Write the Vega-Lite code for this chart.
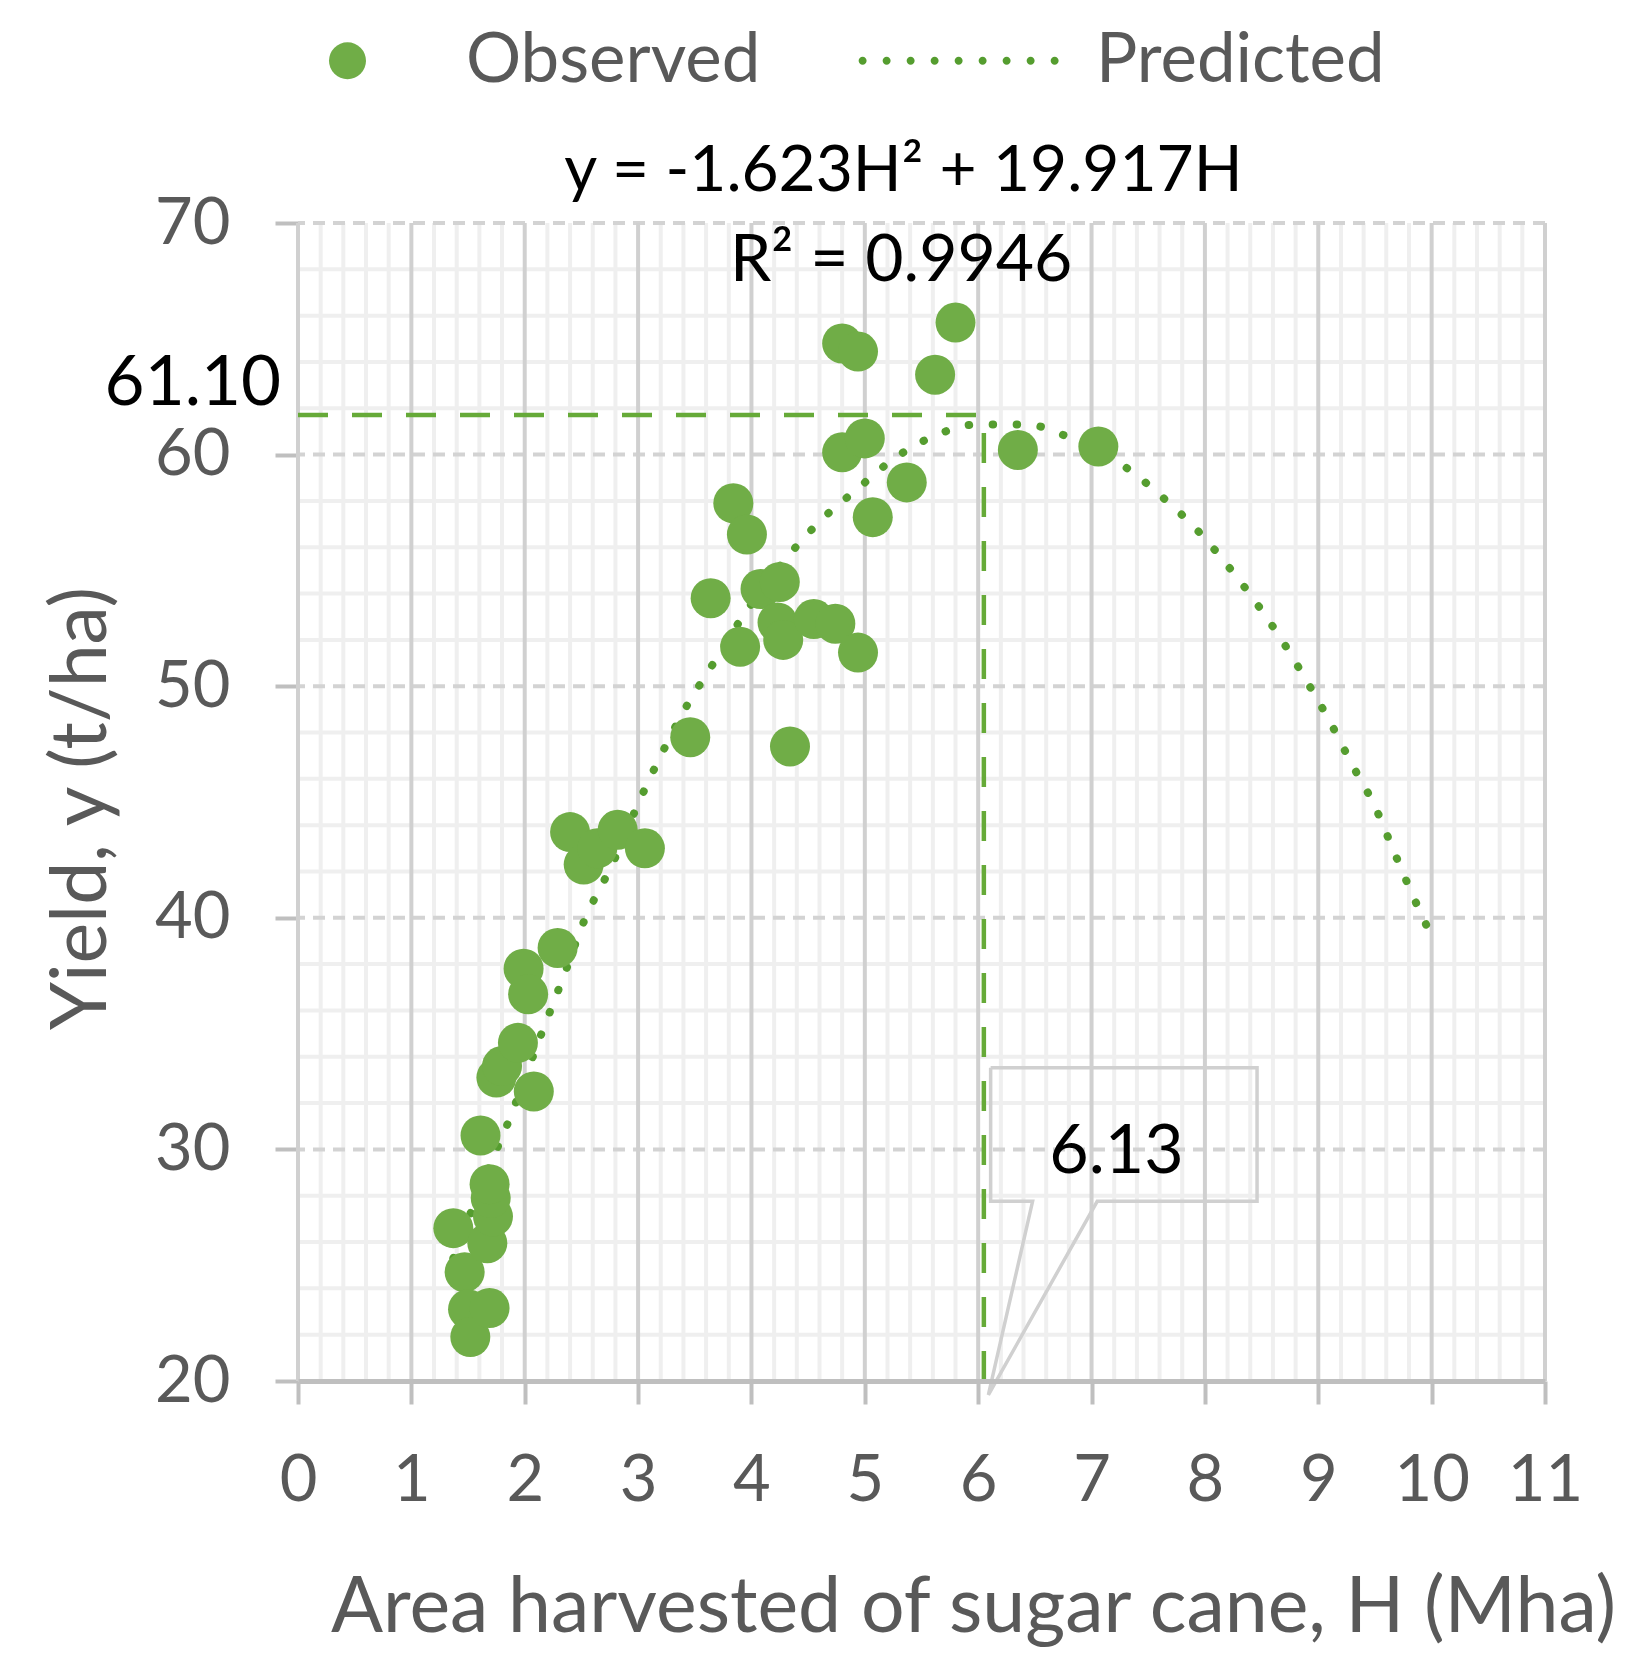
{
  "$schema": "https://vega.github.io/schema/vega-lite/v6.json",
  "description": "Yield of sugar cane versus harvested area, observed and predicted",
  "width": 1247,
  "height": 1158,
  "autosize": {"type": "none"},
  "padding": {"left": 298, "top": 223, "right": 96, "bottom": 299},
  "background": "white",
  "config": {
    "view": {"stroke": null},
    "font": "Lato",
    "axis": {"labelFont": "Lato", "titleFont": "Lato", "labelColor": "#595959", "titleColor": "#595959", "titleFontWeight": "normal", "labelFlush": false}
  },
  "datasets": {
    "obs": [
      {"H": 1.37, "Y": 26.6}, {"H": 1.47, "Y": 24.7}, {"H": 1.50, "Y": 23.1}, {"H": 1.52, "Y": 21.9},
      {"H": 1.69, "Y": 23.15}, {"H": 1.67, "Y": 25.95}, {"H": 1.72, "Y": 27.1}, {"H": 1.70, "Y": 27.9},
      {"H": 1.69, "Y": 28.5}, {"H": 1.61, "Y": 30.6}, {"H": 1.75, "Y": 33.1}, {"H": 1.80, "Y": 33.6},
      {"H": 1.94, "Y": 34.6}, {"H": 2.08, "Y": 32.5}, {"H": 1.99, "Y": 37.8}, {"H": 2.03, "Y": 36.7},
      {"H": 2.29, "Y": 38.7}, {"H": 2.40, "Y": 43.7}, {"H": 2.52, "Y": 42.3}, {"H": 2.64, "Y": 43.0},
      {"H": 2.82, "Y": 43.8}, {"H": 3.06, "Y": 43.0}, {"H": 3.46, "Y": 47.8}, {"H": 4.34, "Y": 47.4},
      {"H": 3.64, "Y": 53.8}, {"H": 3.90, "Y": 51.7}, {"H": 3.84, "Y": 57.9}, {"H": 3.96, "Y": 56.55},
      {"H": 4.08, "Y": 54.2}, {"H": 4.25, "Y": 54.5}, {"H": 4.23, "Y": 52.75}, {"H": 4.28, "Y": 52.0},
      {"H": 4.55, "Y": 52.9}, {"H": 4.74, "Y": 52.7}, {"H": 4.94, "Y": 51.45}, {"H": 4.80, "Y": 60.1},
      {"H": 5.00, "Y": 60.7}, {"H": 5.07, "Y": 57.3}, {"H": 5.37, "Y": 58.8}, {"H": 4.80, "Y": 64.8},
      {"H": 4.94, "Y": 64.45}, {"H": 5.62, "Y": 63.45}, {"H": 5.80, "Y": 65.7}, {"H": 6.35, "Y": 60.2},
      {"H": 7.06, "Y": 60.35}
    ],
    "pred": [
      {"H": 1.37, "Y": 25.3}, {"H": 1.69, "Y": 29.3}, {"H": 1.84, "Y": 31.0}, {"H": 2.14, "Y": 34.9},
      {"H": 2.36, "Y": 37.7}, {"H": 2.51, "Y": 39.7}, {"H": 2.78, "Y": 42.4}, {"H": 3.03, "Y": 45.25},
      {"H": 3.21, "Y": 47.1}, {"H": 3.40, "Y": 48.9}, {"H": 3.64, "Y": 50.8}, {"H": 3.95, "Y": 53.2},
      {"H": 4.32, "Y": 55.6}, {"H": 4.62, "Y": 57.2}, {"H": 4.93, "Y": 58.5}, {"H": 5.25, "Y": 59.8},
      {"H": 5.61, "Y": 60.8}, {"H": 5.99, "Y": 61.3}, {"H": 6.42, "Y": 61.3}, {"H": 6.80, "Y": 60.75},
      {"H": 7.33, "Y": 59.35}, {"H": 7.64, "Y": 58.1}, {"H": 7.94, "Y": 56.7}, {"H": 8.21, "Y": 55.15},
      {"H": 8.46, "Y": 53.55}, {"H": 8.69, "Y": 51.9}, {"H": 8.90, "Y": 50.2}, {"H": 9.11, "Y": 48.4},
      {"H": 9.30, "Y": 46.6}, {"H": 9.50, "Y": 44.8}, {"H": 9.66, "Y": 42.95}, {"H": 9.83, "Y": 41.0},
      {"H": 10.0, "Y": 39.2}
    ],
    "minorX": [
      {"v": 0.2}, {"v": 0.4}, {"v": 0.6}, {"v": 0.8}, {"v": 1.2}, {"v": 1.4}, {"v": 1.6}, {"v": 1.8},
      {"v": 2.2}, {"v": 2.4}, {"v": 2.6}, {"v": 2.8}, {"v": 3.2}, {"v": 3.4}, {"v": 3.6}, {"v": 3.8},
      {"v": 4.2}, {"v": 4.4}, {"v": 4.6}, {"v": 4.8}, {"v": 5.2}, {"v": 5.4}, {"v": 5.6}, {"v": 5.8},
      {"v": 6.2}, {"v": 6.4}, {"v": 6.6}, {"v": 6.8}, {"v": 7.2}, {"v": 7.4}, {"v": 7.6}, {"v": 7.8},
      {"v": 8.2}, {"v": 8.4}, {"v": 8.6}, {"v": 8.8}, {"v": 9.2}, {"v": 9.4}, {"v": 9.6}, {"v": 9.8},
      {"v": 10.2}, {"v": 10.4}, {"v": 10.6}, {"v": 10.8}
    ],
    "minorY": [
      {"v": 22}, {"v": 24}, {"v": 26}, {"v": 28}, {"v": 32}, {"v": 34}, {"v": 36}, {"v": 38},
      {"v": 42}, {"v": 44}, {"v": 46}, {"v": 48}, {"v": 52}, {"v": 54}, {"v": 56}, {"v": 58},
      {"v": 62}, {"v": 64}, {"v": 66}, {"v": 68}
    ],
    "majorX": [
      {"v": 0}, {"v": 1}, {"v": 2}, {"v": 3}, {"v": 4}, {"v": 5}, {"v": 6}, {"v": 7}, {"v": 8}, {"v": 9}, {"v": 10}, {"v": 11}
    ],
    "majorY": [
      {"v": 30}, {"v": 40}, {"v": 50}, {"v": 60}, {"v": 70}
    ],
    "callout": [
      {"o": 1, "H": 6.11, "Y": 33.53}, {"o": 2, "H": 8.46, "Y": 33.53}, {"o": 3, "H": 8.46, "Y": 27.76},
      {"o": 4, "H": 7.05, "Y": 27.76}, {"o": 5, "H": 6.09, "Y": 19.4}, {"o": 6, "H": 6.48, "Y": 27.76},
      {"o": 7, "H": 6.11, "Y": 27.76}, {"o": 8, "H": 6.11, "Y": 33.53}
    ]
  },
  "layer": [
    {
      "data": {"name": "minorX"},
      "mark": {"type": "rule", "color": "#efefef", "strokeWidth": 4},
      "encoding": {
        "x": {"field": "v", "type": "quantitative", "scale": {"domain": [0, 11], "nice": false, "zero": false},
          "axis": {"values": [0, 1, 2, 3, 4, 5, 6, 7, 8, 9, 10, 11], "format": "d", "grid": false,
            "title": "Area harvested of sugar cane, H (Mha)", "titleFontSize": 77, "titleX": 675, "titleY": 227,
            "titleBaseline": "middle", "labelFontSize": 65, "labelPadding": 45, "tickSize": 23, "tickWidth": 4,
            "tickColor": "#bfbfbf", "domainColor": "#bfbfbf", "domainWidth": 5, "zindex": 1}}
      }
    },
    {
      "data": {"name": "minorY"},
      "mark": {"type": "rule", "color": "#efefef", "strokeWidth": 4},
      "encoding": {
        "y": {"field": "v", "type": "quantitative", "scale": {"domain": [20, 70], "nice": false, "zero": false},
          "axis": {"values": [20, 30, 40, 50, 60, 70], "grid": false, "domain": false,
            "title": "Yield, y (t/ha)", "titleFontSize": 77, "titleX": -216, "titleY": 585,
            "titleBaseline": "middle", "labelFontSize": 65, "labelPadding": 45, "tickSize": 23, "tickWidth": 4,
            "tickColor": "#bfbfbf"}}
      }
    },
    {
      "data": {"name": "majorY"},
      "mark": {"type": "rule", "color": "#d3d3d3", "strokeWidth": 4, "strokeDash": [12, 8]},
      "encoding": {"y": {"field": "v", "type": "quantitative"}}
    },
    {
      "data": {"name": "majorX"},
      "mark": {"type": "rule", "color": "#d0d0d0", "strokeWidth": 4},
      "encoding": {"x": {"field": "v", "type": "quantitative"}}
    },
    {
      "data": {"name": "callout"},
      "mark": {"type": "line", "color": "#d0d0d0", "strokeWidth": 3.5},
      "encoding": {
        "x": {"field": "H", "type": "quantitative"},
        "y": {"field": "Y", "type": "quantitative"},
        "order": {"field": "o"}
      }
    },
    {
      "data": {"values": [{}]},
      "mark": {"type": "rule", "color": "#66aa38", "strokeWidth": 4.5, "strokeDash": [30, 24]},
      "encoding": {"x": {"datum": 0}, "x2": {"datum": 6.05}, "y": {"datum": 61.71}}
    },
    {
      "data": {"values": [{}]},
      "mark": {"type": "rule", "color": "#66aa38", "strokeWidth": 4.5, "strokeDash": [30, 24]},
      "encoding": {"x": {"datum": 6.05}, "y": {"datum": 20}, "y2": {"datum": 61.71}}
    },
    {
      "data": {"name": "pred"},
      "mark": {"type": "line", "color": "#559d2f", "strokeWidth": 8, "strokeDash": [0.5, 23.5], "strokeCap": "round", "interpolate": "monotone"},
      "encoding": {
        "x": {"field": "H", "type": "quantitative"},
        "y": {"field": "Y", "type": "quantitative"}
      }
    },
    {
      "data": {"name": "obs"},
      "mark": {"type": "point", "filled": true, "opacity": 1, "size": 1600},
      "encoding": {
        "x": {"field": "H", "type": "quantitative"},
        "y": {"field": "Y", "type": "quantitative"},
        "color": {"datum": "Observed", "type": "nominal",
          "scale": {"domain": ["Observed", "Predicted"], "range": ["#70ad47", "#559d2f"]},
          "legend": {"orient": "none", "legendX": 15, "legendY": -197, "direction": "horizontal", "title": null,
            "labelFont": "Lato", "labelFontSize": 69, "labelColor": "#595959", "labelLimit": 600, "symbolSize": 1369,
            "labelOffset": 84, "columnPadding": 97, "symbolStrokeWidth": 0, "padding": 0}},
        "shape": {"datum": "Observed", "type": "nominal",
          "scale": {"domain": ["Observed", "Predicted"], "range": ["circle", "M-6.426,0a0.216,0.216 0 1,0 0.432,0a0.216,0.216 0 1,0 -0.432,0M-5.128,0a0.216,0.216 0 1,0 0.432,0a0.216,0.216 0 1,0 -0.432,0M-3.83,0a0.216,0.216 0 1,0 0.432,0a0.216,0.216 0 1,0 -0.432,0M-2.533,0a0.216,0.216 0 1,0 0.432,0a0.216,0.216 0 1,0 -0.432,0M-1.236,0a0.216,0.216 0 1,0 0.432,0a0.216,0.216 0 1,0 -0.432,0M0.061,0a0.216,0.216 0 1,0 0.432,0a0.216,0.216 0 1,0 -0.432,0M1.358,0a0.216,0.216 0 1,0 0.432,0a0.216,0.216 0 1,0 -0.432,0M2.656,0a0.216,0.216 0 1,0 0.432,0a0.216,0.216 0 1,0 -0.432,0M3.954,0a0.216,0.216 0 1,0 0.432,0a0.216,0.216 0 1,0 -0.432,0"]},
          "legend": {"orient": "none", "legendX": 15, "legendY": -197, "direction": "horizontal", "title": null,
            "labelFont": "Lato", "labelFontSize": 69, "labelColor": "#595959", "labelLimit": 600, "symbolSize": 1369,
            "labelOffset": 84, "columnPadding": 97, "symbolStrokeWidth": 0, "padding": 0}}
      }
    },
    {
      "data": {"values": [{}]},
      "mark": {"type": "text", "font": "Lato", "fontSize": 64, "color": "#000000", "baseline": "alphabetic"},
      "encoding": {"x": {"datum": 5.34}, "y": {"datum": 71.39}, "text": {"value": "y = -1.623H² + 19.917H"}}
    },
    {
      "data": {"values": [{}]},
      "mark": {"type": "text", "font": "Lato", "fontSize": 66, "color": "#000000", "baseline": "alphabetic"},
      "encoding": {"x": {"datum": 5.32}, "y": {"datum": 67.49}, "text": {"value": "R² = 0.9946"}}
    },
    {
      "data": {"values": [{}]},
      "mark": {"type": "text", "font": "Lato", "fontSize": 69, "color": "#000000", "baseline": "alphabetic", "align": "right"},
      "encoding": {"x": {"datum": -0.15}, "y": {"datum": 62.14}, "text": {"value": "61.10"}}
    },
    {
      "data": {"values": [{}]},
      "mark": {"type": "text", "font": "Lato", "fontSize": 68, "color": "#000000", "baseline": "alphabetic"},
      "encoding": {"x": {"datum": 7.22}, "y": {"datum": 29.0}, "text": {"value": "6.13"}}
    }
  ]
}
